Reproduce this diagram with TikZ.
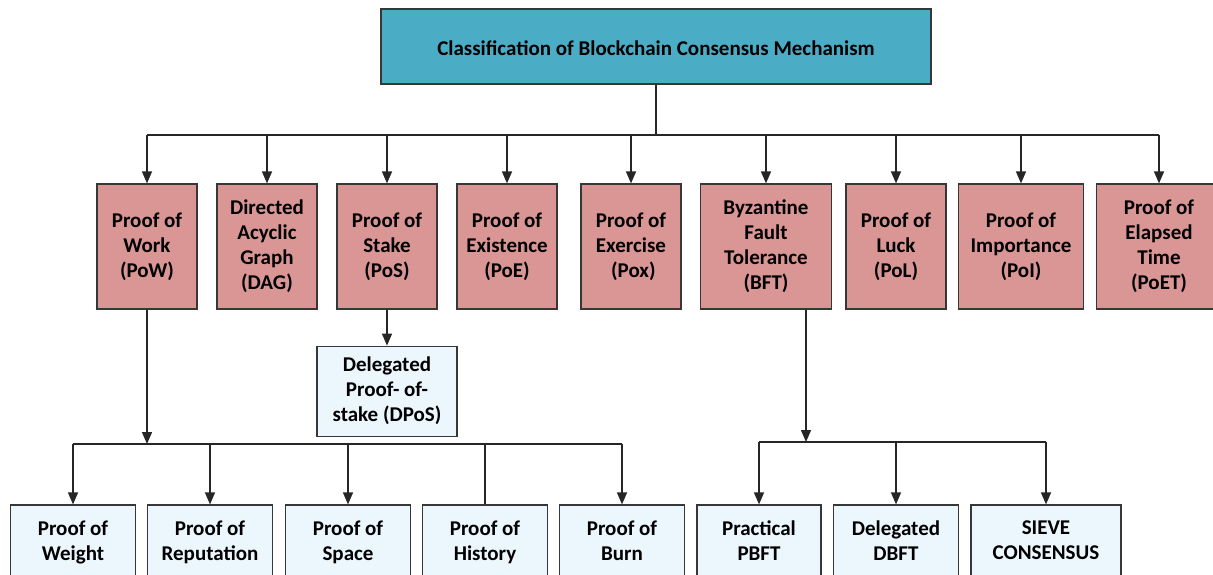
\documentclass[tikz,border=0pt]{standalone}
\usepackage{fontspec}
\setmainfont{Carlito}
\usepackage{xcolor}
\usetikzlibrary{arrows.meta,positioning}
\definecolor{headteal}{RGB}{75,172,198}
\definecolor{catrose}{RGB}{217,150,148}
\definecolor{subice}{RGB}{236,247,253}
\definecolor{edgegray}{RGB}{55,55,55}
\newcommand{\topstrut}{\rule{0pt}{21.5pt}}
\newcommand{\botstrut}{\rule[-3.5pt]{0pt}{3.5pt}}

\begin{document}
\begin{tikzpicture}[
  x=1pt, y=-1pt,
  font=\bfseries\fontsize{21}{25}\selectfont,
  base/.style={draw=edgegray, line width=1.2pt, align=center, inner sep=0pt,
               execute at begin node=\topstrut, execute at end node=\botstrut},
  head/.style={base, fill=headteal, minimum width=550pt, minimum height=75pt},
  cat/.style={base, fill=catrose, minimum width=#1, minimum height=125pt},
  cat/.default=100pt,
  sub/.style={base, fill=subice, minimum width=#1, minimum height=74pt},
  sub/.default=125pt,
  wire/.style={draw=black!85, line width=1.4pt},
  ar/.style={wire, -{Triangle[length=12pt, width=10pt]}}
]
\useasboundingbox (0,0) rectangle (1213,575);
\clip (0,0) rectangle (1213,575);

\node[head] (title) at (656,46.5) {Classification of Blockchain Consensus Mechanism};

% second level
\node[cat] (pow) at (147,246.5) {Proof of\\Work\\(PoW)};
\node[cat] (dag) at (267,246.5) {Directed\\Acyclic\\Graph\\(DAG)};
\node[cat] (pos) at (387,246.5) {Proof of\\Stake\\(PoS)};
\node[cat] (poe) at (507,246.5) {Proof of\\Existence\\(PoE)};
\node[cat] (pox) at (631,246.5) {Proof of\\Exercise\\\ (Pox)};
\node[cat=131pt] (bft) at (766,246.5) {Byzantine\\Fault\\Tolerance\\(BFT)};
\node[cat] (pol) at (896,246.5) {Proof of\\Luck\\(PoL)};
\node[cat=125pt] (poi) at (1021,246.5) {Proof of\\Importance\\(PoI)};
\node[cat=125pt] (poet) at (1159,246.5) {Proof of\\Elapsed\\Time\\(PoET)};

\coordinate (topj) at (656,135);
\draw[wire] (title) -- (topj);
\draw[wire] (topj -| pow) -- (topj -| poet);
\foreach \n in {pow,dag,pos,poe,pox,bft,pol,poi,poet}
  \draw[ar] (topj -| \n) -- (\n);

% stake branch
\node[sub=140pt, minimum height=90pt, below=36pt of pos] (dpos) {Delegated\\Proof- of-\\stake (DPoS)};
\draw[ar] (pos) -- (dpos);

% work branch
\node[sub] (weight) at (73,542) {Proof of\\Weight};
\node[sub] (rep) at (210,542) {Proof of\\Reputation};
\node[sub] (space) at (348,542) {Proof of\\Space};
\node[sub] (hist) at (485,542) {Proof of\\History};
\node[sub] (burn) at (622,542) {Proof of\\Burn};

\coordinate (powj) at (147,444);
\draw[ar] (pow) -- (powj);
\draw[wire] (powj -| weight) -- (powj -| burn);
\foreach \n in {weight,rep,space,burn}
  \draw[ar] (powj -| \n) -- (\n);
\draw[wire] (powj -| hist) -- (hist);

% fault tolerance branch
\node[sub=124pt] (pbft) at (759,542) {Practical\\PBFT};
\node[sub] (dbft) at (896,542) {Delegated\\DBFT};
\node[sub=150pt] (sieve) at (1046,542) {SIEVE\\CONSENSUS};

\coordinate (bftj) at (806,442);
\draw[ar] (bftj |- bft.south) -- (bftj);
\draw[wire] (bftj -| pbft) -- (bftj -| sieve);
\foreach \n in {pbft,dbft,sieve}
  \draw[ar] (bftj -| \n) -- (\n);
\end{tikzpicture}
\end{document}
